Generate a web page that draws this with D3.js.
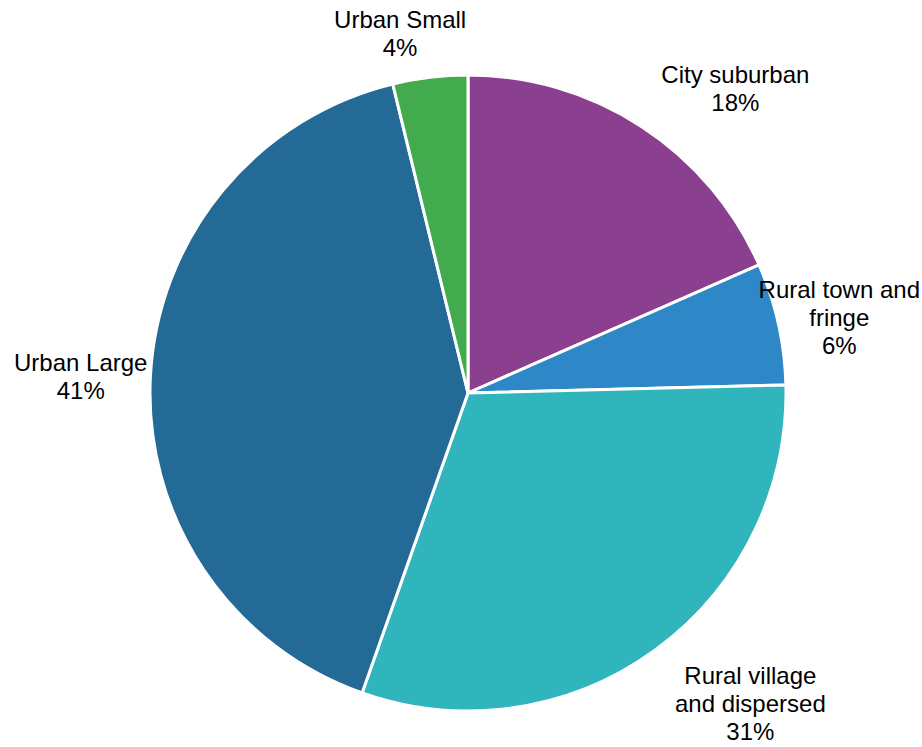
<!DOCTYPE html>
<html>
<head>
<meta charset="utf-8">
<script src="https://cdn.jsdelivr.net/npm/d3@7"></script>
<style>
  html, body { margin: 0; padding: 0; background: #ffffff; }
  svg { display: block; }
  text { font-family: "Liberation Sans", Arial, sans-serif; font-size: 24px; fill: #000; }
</style>
</head>
<body>
<svg id="chart" width="922" height="747"></svg>
<script>
// Share of settlements by rural-urban classification (percent)
const categories = [
  "City suburban",
  "Rural town and fringe",
  "Rural village and dispersed",
  "Urban Large",
  "Urban Small"
];
const shares = [18.4, 6.2, 30.8, 40.8, 3.8];
// Label lines as they wrap on the chart
const labelLines = [
  ["City suburban"],
  ["Rural town and", "fringe"],
  ["Rural village", "and dispersed"],
  ["Urban Large"],
  ["Urban Small"]
];
const colors = ["#8b3f8f", "#2e87c7", "#31b5bd", "#236a96", "#41ab4d"];

const W = 922, H = 747;
const cx = 468, cy = 393, radius = 318;
const lineHeight = 28;
// small per-label adjustments to the automatic outside placement
const labelNudge = [[13, 0], [0, 24], [13, 2], [9, 5], [-5, -3]];

const svg = d3.select("#chart");
const g = svg.append("g").attr("transform", `translate(${cx},${cy})`);

const data = categories.map((c, i) => ({ name: c, value: shares[i], lines: labelLines[i], color: colors[i], nudge: labelNudge[i] }));

const pie = d3.pie().value(d => d.value).sort(null);
const arc = d3.arc().innerRadius(0).outerRadius(radius);
const arcs = pie(data);

g.selectAll("path.slice")
  .data(arcs)
  .join("path")
  .attr("class", "slice")
  .attr("d", arc)
  .attr("fill", d => d.data.color)
  .attr("stroke", "#ffffff")
  .attr("stroke-width", 3)
  .attr("stroke-linejoin", "round");

// Outside-end labels: anchor on the rim at the slice's mid angle,
// then push the text block away from the pie.
const clamp = v => Math.max(-1, Math.min(1, v));
const gap = 12;

arcs.forEach(d => {
  const a = (d.startAngle + d.endAngle) / 2;
  const s = Math.sin(a), c = -Math.cos(a);
  const lines = d.data.lines.concat([Math.round(d.data.value) + "%"]);

  const label = g.append("text").attr("text-anchor", "middle");
  lines.forEach((t, i) => {
    label.append("tspan").attr("x", 0).attr("y", i * lineHeight).text(t);
  });

  let w = 0;
  label.selectAll("tspan").each(function () { w = Math.max(w, this.getComputedTextLength()); });
  const h = lines.length * lineHeight;

  let lx = (radius + gap) * s + (w / 2) * clamp(3 * s);
  let ly = (radius + gap) * c + (h / 2) * clamp(3 * c);

  lx += d.data.nudge[0];
  ly += d.data.nudge[1];

  // keep the block inside the drawing area
  lx = Math.min(lx, W - cx - w / 2 - 2);
  lx = Math.max(lx, -cx + w / 2 + 2);

  // y of the block's first baseline: centre the block vertically on ly
  const top = ly - h / 2 + lineHeight * 0.5 + 8;
  label.attr("transform", `translate(${lx},${top})`);
});
</script>
</body>
</html>
